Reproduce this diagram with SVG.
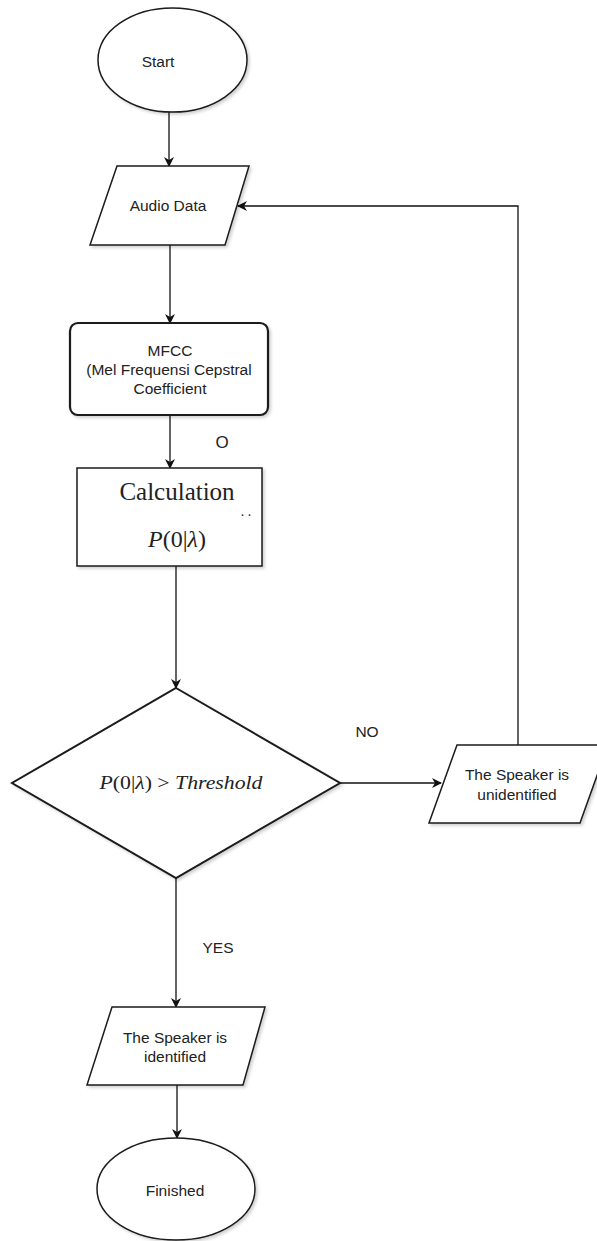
<svg xmlns="http://www.w3.org/2000/svg" width="597" height="1241" viewBox="0 0 597 1241">
<style>
.shape{fill:#fff;stroke:#1a1a1a;stroke-width:1.5;filter:url(#sh)}
.thick{stroke-width:2.2}
.lbl{font-family:"Liberation Sans",Arial,sans-serif;font-size:15.5px;fill:#222;text-anchor:middle;dominant-baseline:central}
.serif{font-family:"Liberation Serif","Times New Roman",serif;fill:#222;text-anchor:middle}
.math{font-family:"Liberation Serif","Times New Roman",serif;font-style:italic;fill:#222;text-anchor:middle}
.conn{fill:none;stroke:#111;stroke-width:1.3}
</style>
<defs>
<filter id="sh" x="-10%" y="-10%" width="130%" height="130%">
<feDropShadow dx="2" dy="2" stdDeviation="1.5" flood-color="#000" flood-opacity="0.18"/>
</filter>
<marker id="arr" viewBox="0 0 10 10" refX="9" refY="5" markerWidth="10" markerHeight="10" markerUnits="userSpaceOnUse" orient="auto">
<path d="M0,0 L10,5 L0,10 L3,5 Z" fill="#111"/>
</marker>
</defs>
<rect width="597" height="1241" fill="#fff"/>
<g id="connectors">
<line class="conn" x1="169" y1="112" x2="169" y2="166" marker-end="url(#arr)"/>
<line class="conn" x1="170" y1="245" x2="170" y2="323" marker-end="url(#arr)"/>
<line class="conn" x1="170" y1="415" x2="170" y2="468" marker-end="url(#arr)"/>
<line class="conn" x1="176" y1="566" x2="176" y2="688" marker-end="url(#arr)"/>
<line class="conn" x1="340" y1="783" x2="441" y2="783" marker-end="url(#arr)"/>
<polyline class="conn" points="518,745 518,206 238,206" marker-end="url(#arr)"/>
<line class="conn" x1="176" y1="878" x2="176" y2="1007" marker-end="url(#arr)"/>
<line class="conn" x1="177" y1="1085" x2="177" y2="1138" marker-end="url(#arr)"/>
<text class="lbl" x="222" y="442" style="font-size:17px">O</text>
<text class="lbl" x="367" y="731">NO</text>
<text class="lbl" x="218" y="947">YES</text>
</g>
<g id="start">
<ellipse class="shape" cx="172.5" cy="60" rx="74.5" ry="52"/>
<text class="lbl" x="158" y="61">Start</text>
</g>
<g id="audio-data">
<polygon class="shape" points="117,166 249,166 225,245 90,245"/>
<text class="lbl" x="168" y="205">Audio Data</text>
</g>
<g id="mfcc">
<rect class="shape thick" x="70" y="323" width="198" height="92" rx="8"/>
<text class="lbl" x="170" y="350">MFCC</text>
<text class="lbl" x="169" y="369">(Mel Frequensi Cepstral</text>
<text class="lbl" x="170" y="388">Coefficient</text>
</g>
<g id="calculation">
<rect class="shape" x="77" y="468" width="185" height="98"/>
<text class="serif" x="177" y="500" style="font-size:25px">Calculation</text>
<text class="serif" x="246" y="516" style="font-size:14px">. .</text>
<text class="math" x="177" y="547" style="font-size:24px">P<tspan font-style="normal">(0|</tspan>λ<tspan font-style="normal">)</tspan></text>
</g>
<g id="decision">
<polygon class="shape" style="stroke-width:2" points="176,688 340,783 176,878 12,783"/>
<text class="math" x="181" y="789" style="font-size:19px" textLength="163" lengthAdjust="spacingAndGlyphs">P<tspan font-style="normal">(0|</tspan>λ<tspan font-style="normal">) &gt; </tspan>Threshold</text>
</g>
<g id="unidentified">
<polygon class="shape" points="457,745 608,745 580,823 429,823"/>
<text class="lbl" x="517" y="774">The Speaker is</text>
<text class="lbl" x="517" y="794">unidentified</text>
</g>
<g id="identified">
<polygon class="shape" points="112,1007 265,1007 243,1085 87,1085"/>
<text class="lbl" x="175" y="1037">The Speaker is</text>
<text class="lbl" x="175" y="1056">identified</text>
</g>
<g id="finished">
<ellipse class="shape" cx="176" cy="1189" rx="79" ry="51"/>
<text class="lbl" x="175" y="1190">Finished</text>
</g>
</svg>
